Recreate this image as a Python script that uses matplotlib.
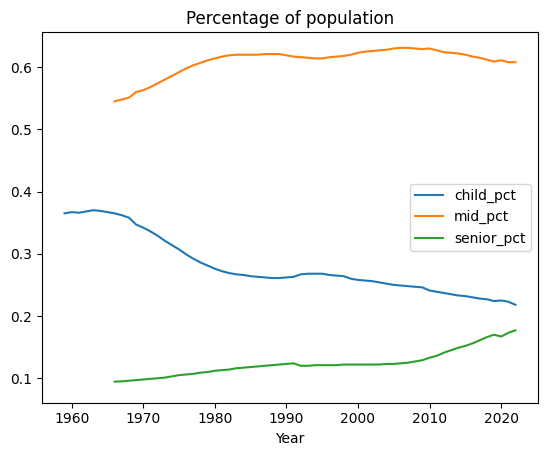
import numpy as np
import matplotlib
matplotlib.use("Agg")
import matplotlib.pyplot as plt

# Jahre
child_years = np.arange(1959, 2023)
adult_years = np.arange(1966, 2023)

child_pct = [0.365, 0.367, 0.366, 0.368, 0.370, 0.369, 0.367, 0.365, 0.362, 0.358,
             0.347, 0.342, 0.336, 0.329, 0.321, 0.314, 0.307, 0.299, 0.292, 0.286,
             0.281, 0.276, 0.272, 0.269, 0.267, 0.266, 0.264, 0.263, 0.262, 0.261,
             0.261, 0.262, 0.263, 0.267, 0.268, 0.268, 0.268, 0.266, 0.265, 0.264,
             0.260, 0.258, 0.257, 0.256, 0.254, 0.252, 0.250, 0.249, 0.248, 0.247,
             0.246, 0.241, 0.239, 0.237, 0.235, 0.233, 0.232, 0.230, 0.228, 0.227,
             0.224, 0.225, 0.223, 0.218]

mid_pct = [0.545, 0.548, 0.551, 0.560, 0.563, 0.568, 0.574, 0.580, 0.586, 0.592,
           0.598, 0.603, 0.607, 0.611, 0.614, 0.617, 0.619, 0.620, 0.620, 0.620,
           0.620, 0.621, 0.621, 0.621, 0.619, 0.617, 0.616, 0.615, 0.614, 0.614,
           0.616, 0.617, 0.618, 0.620, 0.623, 0.625, 0.626, 0.627, 0.628, 0.630,
           0.631, 0.631, 0.630, 0.629, 0.630, 0.627, 0.624, 0.623, 0.622, 0.620,
           0.617, 0.615, 0.612, 0.609, 0.611, 0.608, 0.608]

senior_pct = [0.0945, 0.095, 0.096, 0.097, 0.098, 0.099, 0.100, 0.101, 0.103, 0.105,
              0.106, 0.107, 0.109, 0.110, 0.112, 0.113, 0.114, 0.116, 0.117, 0.118,
              0.119, 0.120, 0.121, 0.122, 0.123, 0.124, 0.120, 0.120, 0.121, 0.121,
              0.121, 0.121, 0.122, 0.122, 0.122, 0.122, 0.122, 0.122, 0.123, 0.123,
              0.124, 0.125, 0.127, 0.129, 0.133, 0.136, 0.141, 0.145, 0.149, 0.152,
              0.156, 0.161, 0.166, 0.170, 0.167, 0.173, 0.177]

fig, ax = plt.subplots(figsize=(5.47, 4.55), dpi=100)
fig.subplots_adjust(left=42/547, right=538/547, top=1-32.3/455, bottom=1-402.5/455)

ax.plot(child_years, child_pct, label="child_pct")
ax.plot(adult_years, mid_pct, label="mid_pct")
ax.plot(adult_years, senior_pct, label="senior_pct")

ax.set_ylim(0.061, 0.656)
ax.set_xlabel("Year")
ax.set_title("Percentage of population")
ax.legend(loc="center right")

fig.savefig("out.png", dpi=100)
